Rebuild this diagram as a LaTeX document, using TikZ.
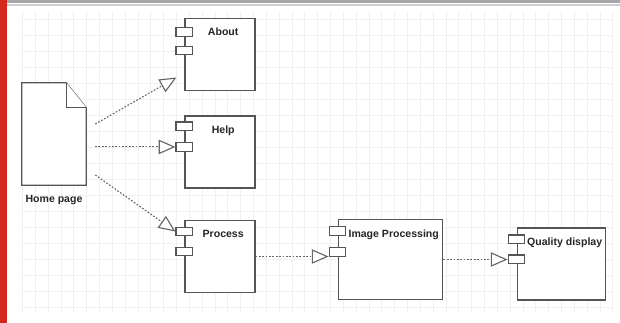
\documentclass[tikz,border=0pt]{standalone}
\usepackage{fontspec}
\setmainfont{Liberation Sans}
\usepackage{xcolor}
\usepackage{tikz}
\usetikzlibrary{positioning, arrows.meta, calc}

\definecolor{edgegray}{HTML}{555555}
\definecolor{dotgray}{HTML}{666666}
\definecolor{gridgray}{HTML}{F0F0F0}
\definecolor{barred}{HTML}{D12A1C}
\definecolor{bargray}{HTML}{A6A6AA}

\begin{document}
\begin{tikzpicture}[x=0.025cm, y=-0.025cm, node distance=0.12cm,
    every node/.style={font=\fontsize{7.5}{9}\selectfont\bfseries, text=black!85},
    compbox/.style={draw=edgegray, line width=0.8pt, fill=white, inner sep=0pt},
    title/.style={anchor=north, yshift=-0.14cm, xshift=0.08cm},
    port/.style={draw=edgegray, line width=0.8pt, fill=white, minimum width=0.42cm, minimum height=0.22cm, inner sep=0pt},
    dep/.style={draw=dotgray, line width=0.8pt, dash pattern=on 1.2pt off 1.2pt, -{Triangle[open, fill=white, length=0.42cm, width=0.36cm]}},
    gridline/.style={draw=gridgray, line width=0.5pt}]
    \useasboundingbox (0,0) rectangle (620,323);
    % page background
    \fill[barred] (0,0) rectangle (7,323);
    \fill[bargray] (7,0) rectangle (620,2.5);
    \draw[gridgray!70!gray, line width=0.8pt] (7,5) -- (620,5);
    \foreach \gx in {0,...,46} \draw[gridline] (22.5+12.83*\gx,11) -- (22.5+12.83*\gx,313);
    \foreach \gy in {0,...,18} \draw[gridline] (22.5,19+16*\gy) -- (612,19+16*\gy);

    % home page document
    \node[minimum width=1.6cm, minimum height=2.55cm, inner sep=0pt] (home) at (54,134) {};
    \draw[compbox] (home.north west) -- ($(home.north east)+(-20,0)$) -- ($(home.north east)+(0,25)$) -- (home.south east) -- (home.south west) -- cycle;
    \draw[compbox] ($(home.north east)+(-20,0)$) -- ($(home.north east)+(-20,25)$) -- ($(home.north east)+(0,25)$);
    \node[below=of home] (hometxt) {Home page};

    % components
    \node[compbox, minimum width=1.75cm, minimum height=1.82cm, label={[title]north:About}] (about) at (220,54.5) {};
    \node[port] (aboutp1) at ($(about.north west)+(0,14.5)$) {};
    \node[port] (aboutp2) at ($(about.north west)+(0,33)$) {};

    \node[compbox, minimum width=1.75cm, minimum height=1.8cm, label={[title]north:Help}] (help) at (220,152) {};
    \node[port] (helpp1) at ($(help.north west)+(0,11)$) {};
    \node[port] (helpp2) at ($(help.north west)+(0,31.5)$) {};

    \node[compbox, minimum width=1.75cm, minimum height=1.82cm, label={[title]north:Process}] (process) at (220,256.5) {};
    \node[port] (processp1) at ($(process.north west)+(0,12)$) {};
    \node[port] (processp2) at ($(process.north west)+(0,32)$) {};

    \node[compbox, minimum width=2.62cm, minimum height=1.98cm, label={[title]north:Image Processing}] (imgproc) at (390.5,259.5) {};
    \node[port] (imgp1) at ($(imgproc.north west)+(0,12)$) {};
    \node[port] (imgp2) at ($(imgproc.north west)+(0,33)$) {};

    \node[compbox, minimum width=2.22cm, minimum height=1.8cm, label={[title]north:Quality display}] (quality) at (561.5,264) {};
    \node[port] (qualityp1) at ($(quality.north west)+(0,12)$) {};
    \node[port] (qualityp2) at ($(quality.north west)+(0,32)$) {};

    % dependencies
    \draw[dep] ($(home.east)+(9,-10)$) -- ($(about.south west)+(-8,-14)$);
    \draw[dep, shorten <=0.22cm] (home.east |- helpp2.west) -- (helpp2.west);
    \draw[dep] ($(home.east)+(9,41)$) -- (processp1.west);
    \draw[dep] (process.east) -- (process.east -| imgp2.west);
    \draw[dep] (imgproc.east) -- (imgproc.east -| qualityp2.west);
\end{tikzpicture}
\end{document}
